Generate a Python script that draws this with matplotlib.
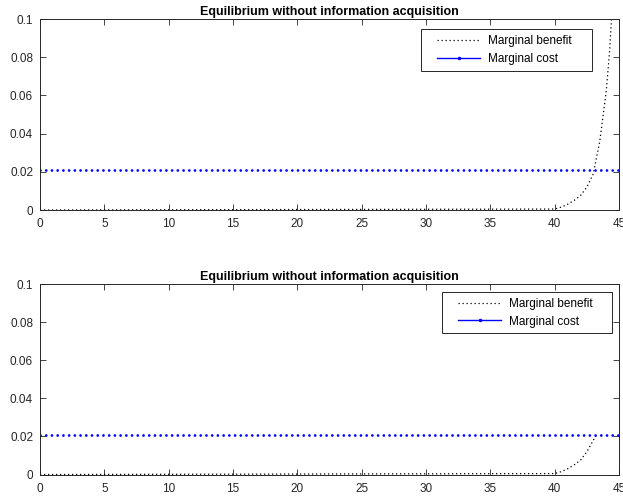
import matplotlib
matplotlib.use("Agg")
import matplotlib.pyplot as plt
from matplotlib.lines import Line2D
from matplotlib.patches import Rectangle

plt.rcParams['font.family'] = ['Liberation Sans', 'DejaVu Sans']

title = "Equilibrium without information acquisition"
legend_labels = ["Marginal benefit", "Marginal cost"]

# Marginal benefit (top panel)
benefit_x = [0, 40, 40.5, 41, 41.5, 42, 42.5, 43, 43.5, 44, 44.25, 44.5]
benefit_y = [0, 0.0005, 0.0015, 0.003, 0.005, 0.0075, 0.012, 0.019, 0.036, 0.062, 0.082, 0.11]

# Marginal benefit (bottom panel, stops where it meets cost)
benefit2_x = [0, 40, 40.5, 41, 41.5, 42, 42.5, 43, 43.25]
benefit2_y = [0, 0.0005, 0.0015, 0.003, 0.005, 0.0075, 0.012, 0.018, 0.021]

# Marginal cost (constant)
cost_x = [0, 45]
cost_y = [0.021, 0.021]

xticks = [0, 5, 10, 15, 20, 25, 30, 35, 40, 45]
yticks = [0, 0.02, 0.04, 0.06, 0.08, 0.1]
ytick_labels = ["0", "0.02", "0.04", "0.06", "0.08", "0.1"]

fig = plt.figure(figsize=(6.23, 4.96), dpi=100)
ax1 = fig.add_axes([0.0642, 0.5766, 0.9295, 0.385])
ax2 = fig.add_axes([0.0642, 0.0433, 0.9295, 0.384])

def style(ax, bx, by, frame, anchor):
    ax.plot(bx, by, color='black', lw=0.9, linestyle=(0, (1, 2.2)))
    ax.plot(cost_x, cost_y, color='#0000ff', lw=2.0, linestyle=(0, (0.01, 2.05)),
            dash_capstyle='round')
    ax.set_xlim(0, 45)
    ax.set_ylim(0, 0.1)
    ax.set_xticks(xticks)
    ax.set_yticks(yticks)
    ax.set_yticklabels(ytick_labels)
    ax.tick_params(direction='in', top=True, right=True, labelsize=8.5, length=4,
                   width=0.6, colors='#262626')
    ax.tick_params(axis='x', pad=6)
    ax.tick_params(axis='y', pad=5)
    for s in ax.spines.values():
        s.set_linewidth(0.7)
        s.set_color('#262626')
    ax.set_title(title, fontsize=9, fontweight='bold', pad=3)
    x0, y0, x1, y1 = frame
    ax.add_patch(Rectangle((x0, y0), x1 - x0, y1 - y0, transform=ax.transAxes,
                           facecolor='white', edgecolor='#262626', lw=0.7, zorder=4))
    handles = [Line2D([], [], color='black', lw=0.9, linestyle=(0, (1, 2.2))),
               Line2D([], [], color='#0000ff', lw=1.0, marker='.', markersize=3)]
    leg = ax.legend(handles, legend_labels, loc='center left', bbox_to_anchor=anchor,
                    fontsize=8.5, frameon=False, handlelength=3.65, borderpad=0,
                    labelspacing=0.5, handletextpad=0.68, borderaxespad=0)
    leg.set_zorder(5)

style(ax1, benefit_x, benefit_y, (0.658, 0.728, 0.953, 0.948), (0.686, 0.838))
style(ax2, benefit2_x, benefit2_y, (0.694, 0.743, 0.988, 0.958), (0.722, 0.850))

fig.savefig("out.png", dpi=100)
